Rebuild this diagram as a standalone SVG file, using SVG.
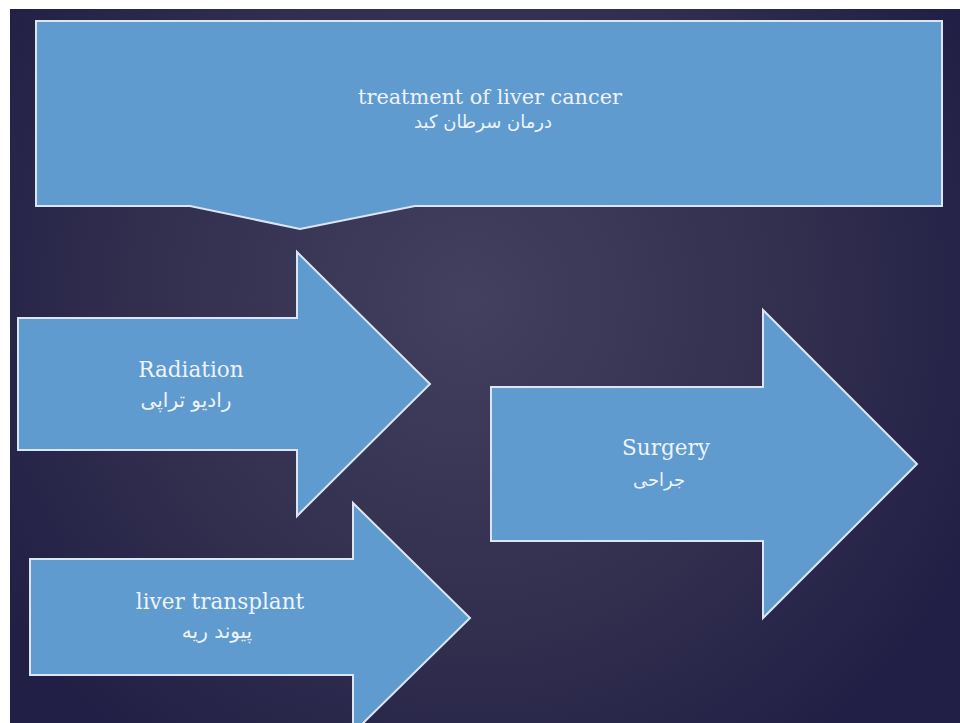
<svg xmlns="http://www.w3.org/2000/svg" width="960" height="723" viewBox="0 0 960 723">
<defs>
<radialGradient id="bg" cx="470" cy="300" r="560" gradientUnits="userSpaceOnUse">
<stop offset="0" stop-color="#43405f"/>
<stop offset="0.55" stop-color="#33304f"/>
<stop offset="1" stop-color="#211f45"/>
</radialGradient>
<style>
.shape{fill:#5f9bcf;stroke:#dbe6f2;stroke-width:2;stroke-linejoin:miter}
.en{font-family:"DejaVu Serif","Liberation Serif",serif;font-size:21.5px;fill:#eef3fa;text-anchor:middle}
.fa{font-family:"DejaVu Sans","Noto Sans",sans-serif;font-size:18px;fill:#eef3fa;text-anchor:middle}
</style>
</defs>
<rect x="0" y="0" width="960" height="723" fill="#ffffff"/>
<rect x="10" y="9" width="950" height="714" fill="url(#bg)"/>
<g id="connectors"></g>
<g id="node-treatment">
<path class="shape" d="M36,21 H942 V206 H415 L300,229 L190,206 H36 Z"/>
<text class="en" x="490" y="104" style="font-size:20.8px">treatment of liver cancer</text>
<text class="fa" x="483" y="128" direction="rtl">درمان سرطان کبد</text>
</g>
<g id="node-radiation">
<path class="shape" d="M18,318 H297 V252 L430,384 L297,516 V450 H18 Z"/>
<text class="en" x="191" y="377">Radiation</text>
<text class="fa" x="186" y="407" direction="rtl" style="font-size:20px">رادیو تراپی</text>
</g>
<g id="node-transplant">
<path class="shape" d="M30,559 H353 V503 L470,618 L353,733 V675 H30 Z"/>
<text class="en" x="220" y="609">liver transplant</text>
<text class="fa" x="217" y="638" direction="rtl" style="font-size:20px">پیوند ریه</text>
</g>
<g id="node-surgery">
<path class="shape" d="M491,387 H763 V310 L917,464 L763,618 V541 H491 Z"/>
<text class="en" x="666" y="455">Surgery</text>
<text class="fa" x="659" y="486" direction="rtl">جراحی</text>
</g>
</svg>
